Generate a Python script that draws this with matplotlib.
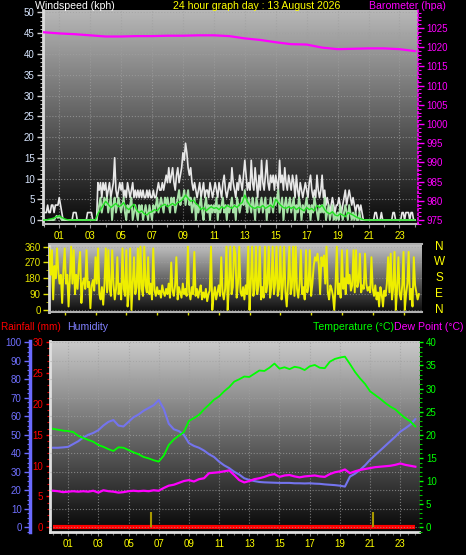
import numpy as np
import matplotlib
matplotlib.use('Agg')
import matplotlib.pyplot as plt
from matplotlib.ticker import MultipleLocator
from matplotlib.colors import LinearSegmentedColormap
import matplotlib.transforms as mtransforms

plt.rcParams['font.family'] = ['Liberation Sans', 'DejaVu Sans']

# ---------------- data ----------------
hour_ticks = [1, 3, 5, 7, 9, 11, 13, 15, 17, 19, 21, 23]
hour_labels = ['01', '03', '05', '07', '09', '11', '13', '15', '17', '19', '21', '23']

# wind gust (kph), 5-minute samples
wind_gust = [
    1.8, 1.8, 1.8, 3.6, 1.8, 1.8, 3.6, 3.6, 1.8, 3.6, 3.6, 3.6,
    5.4, 3.6, 1.8, 0, 0, 0, 0, 0, 0, 0, 0, 1.8,
    1.8, 1.8, 0, 0, 0, 0, 0, 0, 0, 0, 1.8, 1.8,
    1.8, 1.8, 0, 0, 0, 0, 9.0, 7.2, 9.0, 5.4, 9.0, 7.2,
    9.0, 5.4, 7.2, 9.0, 5.4, 7.2, 9.0, 15.0, 7.2, 5.4, 7.2, 9.0,
    7.2, 9.0, 5.4, 7.2, 5.4, 9.0, 7.2, 5.4, 7.2, 9.0, 5.4, 7.2,
    5.4, 7.2, 5.4, 7.2, 5.4, 7.2, 5.4, 5.4, 7.2, 5.4, 7.2, 5.4,
    5.4, 7.2, 5.4, 5.4, 7.2, 9.0, 7.2, 7.2, 9.0, 7.2, 9.0, 10.8,
    9.0, 12.6, 9.0, 10.8, 12.6, 9.0, 7.2, 10.8, 12.6, 9.0, 10.8, 12.6,
    16.2, 14.4, 18.5, 16.2, 12.6, 10.8, 12.6, 9.0, 7.2, 9.0, 7.2, 5.4,
    7.2, 9.0, 5.4, 7.2, 9.0, 5.4, 7.2, 7.2, 5.4, 9.0, 7.2, 5.4,
    7.2, 9.0, 7.2, 5.4, 9.0, 7.2, 5.4, 9.0, 10.8, 7.2, 5.4, 7.2,
    9.0, 7.2, 12.6, 9.0, 7.2, 5.4, 9.0, 7.2, 10.8, 9.0, 7.2, 10.8,
    14.4, 10.8, 7.2, 9.0, 7.2, 14.4, 9.0, 7.2, 12.6, 9.0, 5.4, 10.8,
    7.2, 14.4, 9.0, 7.2, 10.8, 14.4, 9.0, 7.2, 10.8, 9.0, 10.8, 7.2,
    10.8, 9.0, 7.2, 14.4, 9.0, 10.8, 7.2, 12.6, 9.0, 7.2, 10.8, 9.0,
    7.2, 10.8, 9.0, 5.4, 10.8, 7.2, 5.4, 9.0, 7.2, 5.4, 7.2, 9.0,
    7.2, 5.4, 9.0, 10.8, 7.2, 5.4, 7.2, 5.4, 10.8, 7.2, 5.4, 7.2,
    10.8, 5.4, 7.2, 3.6, 5.4, 3.6, 1.8, 3.6, 5.4, 3.6, 1.8, 3.6,
    3.6, 5.4, 3.6, 1.8, 3.6, 5.4, 7.2, 3.6, 5.4, 7.2, 5.4, 3.6,
    5.4, 3.6, 1.8, 3.6, 3.6, 1.8, 3.6, 1.8, 0, 0, 0, 0,
    0, 0, 0, 0, 0, 1.8, 1.8, 0, 0, 0, 1.8, 0,
    0, 0, 0, 0, 0, 0, 0, 1.8, 1.8, 0, 0, 0,
    0, 0, 1.8, 1.8, 0, 1.8, 1.8, 1.8, 0, 1.8, 1.8, 0,
    0]

# wind speed (kph), 5-minute samples
wind_speed = [
    0, 0, 0, 0, 0, 0, 0, 0, 0, 0.5, 1.0, 0.5,
    1.0, 0.5, 0, 0, 0, 0, 0, 0, 0, 0, 0, 0,
    0, 0, 0, 0, 0, 0, 0, 0, 0, 0, 0, 0,
    0, 0, 0, 0, 0, 0, 1.8, 3.6, 5.4, 1.8, 3.6, 5.4,
    3.6, 5.4, 1.8, 3.6, 5.4, 0, 3.6, 5.4, 1.8, 3.6, 5.4, 3.6,
    1.8, 3.6, 5.4, 1.8, 0, 3.6, 1.8, 3.6, 5.4, 0, 1.8, 3.6,
    1.8, 0, 3.6, 1.8, 3.6, 0, 1.8, 3.6, 1.8, 0, 3.6, 1.8,
    0, 3.6, 1.8, 3.6, 5.4, 1.8, 3.6, 5.4, 3.6, 1.8, 5.4, 3.6,
    5.4, 3.6, 1.8, 5.4, 3.6, 5.4, 1.8, 3.6, 5.4, 7.2, 3.6, 5.4,
    5.4, 7.2, 3.6, 5.4, 7.2, 3.6, 5.4, 1.8, 3.6, 5.4, 0, 3.6,
    1.8, 3.6, 5.4, 1.8, 0, 3.6, 5.4, 1.8, 3.6, 0, 3.6, 1.8,
    3.6, 1.8, 5.4, 0, 3.6, 1.8, 3.6, 5.4, 1.8, 3.6, 0, 3.6,
    1.8, 3.6, 5.4, 1.8, 3.6, 0, 5.4, 3.6, 1.8, 3.6, 5.4, 3.6,
    7.2, 3.6, 1.8, 5.4, 3.6, 1.8, 5.4, 3.6, 0, 5.4, 3.6, 1.8,
    3.6, 5.4, 1.8, 3.6, 5.4, 0, 3.6, 1.8, 5.4, 3.6, 1.8, 5.4,
    3.6, 5.4, 7.2, 1.8, 3.6, 5.4, 0, 3.6, 5.4, 1.8, 3.6, 5.4,
    1.8, 3.6, 5.4, 0, 3.6, 1.8, 5.4, 3.6, 0, 3.6, 1.8, 3.6,
    5.4, 1.8, 3.6, 0, 3.6, 1.8, 5.4, 3.6, 1.8, 0, 3.6, 1.8,
    3.6, 1.8, 5.4, 0, 1.8, 3.6, 0, 1.8, 3.6, 0, 1.8, 0,
    1.8, 0, 3.6, 1.8, 0, 1.8, 3.6, 1.8, 0, 3.6, 1.8, 0,
    1.8, 0, 1.8, 0, 0, 1.8, 0, 0, 0, 0, 0, 0,
    0, 0, 0, 0, 0, 0, 0, 0, 0, 0, 0, 0,
    0, 0, 0, 0, 0, 0, 0, 0, 0, 0, 0, 0,
    0, 0, 0, 0, 0, 0, 0, 0, 0, 0, 0, 0,
    0]

# average wind (kph), 10-minute samples
wind_avg = [
    0, 0, 0.2, 0.3, 0.5, 0.8,
    1.0, 0.6, 0.3, 0.1, 0, 0,
    0, 0, 0, 0, 0, 0,
    0, 0, 0, 1.5, 2.5, 3.5,
    4.5, 3.8, 3.0, 3.5, 4.0, 3.2,
    3.5, 4.2, 3.0, 2.5, 3.2, 3.8,
    2.5, 1.8, 2.2, 1.5, 1.2, 1.8,
    2.0, 2.5, 2.2, 3.0, 3.5, 3.8,
    3.2, 3.6, 4.0, 3.5, 4.2, 4.5,
    5.0, 6.0, 5.2, 4.5, 4.8, 4.0,
    3.5, 2.5, 3.0, 2.2, 2.8, 3.2,
    2.8, 3.0, 2.5, 3.2, 2.8, 3.5,
    3.2, 2.8, 3.5, 3.0, 3.8, 4.2,
    6.0, 4.5, 3.5, 3.0, 2.8, 3.2,
    3.0, 3.5, 2.8, 3.2, 3.6, 3.0,
    5.0, 4.2, 3.5, 3.0, 2.8, 3.2,
    2.8, 3.2, 2.5, 3.0, 2.6, 2.2,
    3.0, 2.5, 2.8, 2.2, 3.5, 3.0,
    3.6, 2.5, 1.8, 1.5, 2.0, 1.2,
    1.0, 1.5, 1.2, 0.8, 1.8, 1.5,
    1.2, 0.8, 0.5, 0.3, 0.1, 0,
    0, 0, 0, 0, 0, 0,
    0, 0, 0, 0, 0, 0,
    0, 0, 0, 0, 0, 0,
    0]

# barometer (hPa), hourly
baro = [1023.9, 1023.6, 1023.4, 1023.1, 1022.8, 1022.8, 1022.9, 1022.9,
        1023.0, 1023.0, 1023.1, 1023.1, 1022.9, 1022.3, 1021.9, 1021.3,
        1020.8, 1020.7, 1019.9, 1019.5, 1019.6, 1019.7, 1019.7, 1019.5,
        1019.0]

# wind direction (degrees), 5-minute samples
wind_dir = [
    350, 200, 340, 60, 250, 180, 350, 220, 150, 200, 40, 230,
    350, 150, 200, 20, 180, 360, 150, 340, 90, 200, 120, 250,
    330, 40, 150, 180, 120, 340, 130, 160, 10, 140, 170, 110,
    300, 150, 350, 90, 60, 130, 30, 150, 350, 100, 340, 120,
    80, 340, 150, 60, 120, 300, 90, 150, 60, 350, 120, 80,
    340, 20, 100, 350, 0, 150, 300, 90, 130, 350, 60, 360,
    120, 80, 360, 140, 100, 300, 90, 150, 60, 350, 110, 80,
    130, 90, 110, 70, 140, 100, 80, 120, 90, 150, 70, 270,
    110, 80, 140, 300, 60, 130, 100, 70, 150, 90, 120, 80,
    360, 100, 60, 130, 90, 330, 80, 120, 70, 110, 140, 60,
    100, 70, 120, 50, 90, 110, 360, 0, 80, 130, 60, 100,
    140, 80, 300, 100, 60, 120, 360, 0, 150, 360, 90, 130,
    360, 320, 70, 150, 360, 100, 80, 130, 60, 140, 90, 360,
    0, 150, 360, 80, 120, 360, 90, 140, 360, 60, 130, 70,
    360, 100, 150, 360, 70, 130, 360, 90, 150, 360, 80, 120,
    360, 60, 140, 360, 100, 20, 150, 360, 90, 130, 360, 80,
    360, 120, 70, 150, 340, 90, 130, 60, 340, 100, 140, 340,
    80, 150, 250, 300, 280, 320, 260, 90, 300, 250, 310, 150,
    360, 100, 60, 140, 120, 80, 0, 130, 360, 90, 150, 70,
    340, 120, 180, 90, 340, 150, 200, 110, 140, 340, 100, 340,
    130, 160, 320, 100, 140, 120, 320, 150, 110, 130, 100, 300,
    120, 80, 140, 60, 100, 20, 130, 90, 20, 110, 80, 150,
    300, 100, 320, 60, 130, 330, 0, 120, 300, 90, 60, 140,
    330, 0, 90, 150, 330, 60, 120, 20, 300, 140, 100, 60,
    90]

# temperature (C), 20-minute samples
temperature = [
    21.3, 21.1, 20.9, 20.8, 20.6, 19.8, 19.3, 18.9, 18.5, 17.8, 17.4, 16.9,
    16.5, 17.3, 17.2, 16.7, 16.2, 15.8, 15.2, 14.9, 14.5, 14.2, 15.5, 17.8,
    19.0, 19.8, 20.6, 23.0, 23.6, 24.3, 25.5, 26.5, 27.6, 28.3, 29.4, 30.3,
    31.5, 32.0, 32.6, 32.5, 33.2, 33.9, 33.8, 34.5, 35.4, 34.3, 34.6, 34.2,
    34.7, 34.5, 34.0, 34.8, 35.1, 34.5, 34.4, 35.8, 36.4, 36.7, 36.9, 35.3,
    33.6, 32.2, 31.0, 29.4, 28.6, 27.8, 26.9, 26.1, 25.5, 24.5, 23.6, 22.9,
    21.8]

# humidity (%), 20-minute samples
humidity = [
    43.0, 43.0, 43.2, 43.5, 45.0, 46.5, 48.5, 50.0, 51.0, 52.5, 55.0, 57.0,
    58.0, 55.0, 54.5, 57.0, 59.5, 61.0, 63.0, 64.5, 66.0, 68.8, 64.0, 56.0,
    53.0, 52.0, 50.0, 45.5, 44.0, 43.0, 41.5, 39.5, 38.0, 35.5, 33.5, 32.0,
    30.0, 28.5, 26.5, 25.6, 25.0, 24.5, 24.3, 24.2, 24.1, 24.0, 24.0, 24.0,
    23.8, 23.8, 23.7, 23.8, 23.6, 23.5, 23.2, 23.0, 22.8, 22.5, 22.0, 27.4,
    29.0, 31.0, 33.5, 36.5, 39.0, 41.5, 44.0, 46.5, 49.0, 51.7, 53.5, 55.5,
    58.5]

# dew point (C), 20-minute samples
dew_point = [
    7.9, 7.8, 7.6, 7.7, 7.8, 7.7, 7.8, 7.7, 7.9, 7.5, 8.0, 7.8,
    7.7, 7.5, 7.6, 7.8, 7.9, 7.8, 7.9, 7.8, 8.0, 7.9, 8.5, 9.0,
    9.2, 9.6, 10.0, 10.2, 9.9, 10.4, 10.6, 11.7, 11.8, 11.9, 12.1, 12.3,
    11.3, 10.2, 9.7, 10.0, 10.4, 10.6, 10.9, 11.3, 11.5, 10.9, 11.2, 11.3,
    11.0, 10.8, 11.0, 11.1, 11.2, 11.0, 10.9, 11.5, 11.9, 12.1, 12.5, 11.7,
    12.1, 12.4, 12.6, 12.8, 13.0, 13.1, 13.2, 13.3, 13.5, 13.8, 13.5, 13.3,
    13.1]

# rainfall (mm), hourly
rainfall = [0.0] * 25

# sunrise / sunset markers (hour of day)
sun_events = [6.47, 21.17]

# ---------------- figure ----------------
W, H = 466, 555
fig = plt.figure(figsize=(W / 100, H / 100), dpi=100, facecolor='black')


def rect(x0, y0, x1, y1):
    return [x0 / W, 1 - y1 / H, (x1 - x0) / W, (y1 - y0) / H]


def gradient(ax, top, bottom):
    g = np.linspace(0, 1, 256).reshape(-1, 1)
    cmap = LinearSegmentedColormap.from_list('g', [top, bottom])
    ax.imshow(g, cmap=cmap, extent=[0, 1, 0, 1], transform=ax.transAxes,
              aspect='auto', zorder=-10, origin='upper', interpolation='bilinear')


t5 = np.arange(len(wind_gust)) / 12.0
t10 = np.arange(len(wind_avg)) / 6.0
t60 = np.arange(len(baro)) * 1.0
t5d = np.arange(len(wind_dir)) / 12.0
t20 = np.arange(len(temperature)) / 3.0
t60r = np.arange(len(rainfall)) * 1.0

FS = 7
YEL = '#ffff00'
PX = 0.72  # points per pixel at 100 dpi

# ---- top panel: wind speed + barometer ----
ax1 = fig.add_axes(rect(43, 10, 418, 224))
gradient(ax1, '#b8b8b8', '#0a0a0a')
ax1.plot(t5, wind_gust, color='#e8e8e8', lw=1.2, zorder=2)
ax1.plot(t5, wind_speed, color='#b0eeb0', lw=1.4, alpha=0.95, zorder=3)
ax1.plot(t10, wind_avg, color='#22e022', lw=1.0, zorder=4)
ax1.set_xlim(-0.05, 24.2)
ax1.set_ylim(-0.96, 50.6)
ax1.yaxis.set_major_locator(MultipleLocator(5))
ax1.yaxis.set_minor_locator(MultipleLocator(1))
ax1.set_xticks(hour_ticks)
ax1.set_xticklabels(hour_labels)
ax1.set_xticks(range(0, 25), minor=True)
ax1.tick_params(axis='y', which='major', color='#d0d0d0', labelcolor='#d8e6ff',
                labelsize=FS, length=4, width=1, pad=2)
ax1.tick_params(axis='y', which='minor', color='#c0c0c0', length=2, width=0.8)
ax1.tick_params(axis='x', which='major', color='#909090', labelcolor=YEL,
                labelsize=FS, length=3, width=0.8, pad=2)
ax1.tick_params(axis='x', which='minor', color='#909090', length=2, width=0.8)
ax1.set_axisbelow(True)
ax1.grid(True, which='major', color='#a0a0a0', ls=':', lw=0.8, alpha=0.7)
for s in ['top', 'right']:
    ax1.spines[s].set_visible(False)
ax1.spines['left'].set_color('#dcdcdc')
ax1.spines['left'].set_linewidth(2)
ax1.spines['bottom'].set_color('#bdbdbd')
ax1.spines['bottom'].set_linewidth(1.5)

ax1b = ax1.twinx()
ax1b.plot(t60, baro, color='#ff00ff', lw=1.6)
ax1b.set_ylim(973.96, 1029.7)
ax1b.yaxis.set_minor_locator(MultipleLocator(1))
ax1b.set_yticks(np.arange(975, 1026, 5))
ax1b.tick_params(axis='y', which='major', color='#ff00ff', labelcolor='#ff00ff',
                 labelsize=FS, length=4, width=1, pad=2)
ax1b.tick_params(axis='y', which='minor', color='#ff00ff', length=2, width=0.8)
for s in ['top', 'left', 'bottom']:
    ax1b.spines[s].set_visible(False)
ax1b.spines['right'].set_color('#ff00ff')
ax1b.spines['right'].set_linestyle(':')
ax1b.spines['right'].set_linewidth(1.2)

# ---- wind direction panel ----
ax2 = fig.add_axes(rect(49, 244, 422, 312))
gradient(ax2, '#c4c4c4', '#0c0c0c')
ax2.plot(t5d, wind_dir, color='#eeee00', lw=1.4, zorder=3)
ax2.set_xlim(-0.02, 24.2)
ax2.set_ylim(-11.4, 375)
ax2.set_yticks([0, 90, 180, 270, 360])
ax2.yaxis.set_minor_locator(MultipleLocator(45))
ax2.set_xticks(hour_ticks)
ax2.set_xticklabels([])
ax2.tick_params(axis='y', which='major', color='#e0e000', labelcolor='#e6e600',
                labelsize=FS, length=4, width=1, pad=2)
ax2.tick_params(axis='y', which='minor', color='#c8c800', length=2)
ax2.tick_params(axis='x', which='major', color='#e0e000', length=2, width=1)
ax2.set_axisbelow(True)
ax2.grid(True, which='major', axis='y', color='#a0a0a0', ls=':', lw=0.8, alpha=0.6)
ax2.spines['right'].set_visible(False)
ax2.spines['left'].set_color('#d8d8d8')
ax2.spines['left'].set_linewidth(2)
for s in ['top', 'bottom']:
    ax2.spines[s].set_color('#b0b0b0')
    ax2.spines[s].set_linewidth(1.5)
trans2 = mtransforms.blended_transform_factory(ax2.transAxes, ax2.transData)
for val, letter in zip([360, 270, 180, 90, 0], ['N', 'W', 'S', 'E', 'N']):
    ax2.text(1.046, val, letter, transform=trans2, color=YEL, fontsize=8.5,
             ha='center', va='center')

# ---- bottom panel: rain / humidity / temperature / dew point ----
ax3 = fig.add_axes(rect(50, 341, 419, 532))
gradient(ax3, '#cacaca', '#060606')
ax3.plot(t60r, rainfall, color='#ff0000', lw=3, zorder=4, solid_capstyle='butt')
ax3.set_xlim(-0.2, 24.24)
ax3.set_ylim(-0.76, 30.2)
ax3.yaxis.set_major_locator(MultipleLocator(5))
ax3.yaxis.set_minor_locator(MultipleLocator(1))
ax3.set_xticks(hour_ticks)
ax3.set_xticklabels(hour_labels)
ax3.set_xticks(np.arange(0, 24.5, 0.5), minor=True)
ax3.tick_params(axis='y', which='major', color='#ff0000', labelcolor='#ff0000',
                labelsize=FS, length=3, width=1, pad=2)
ax3.tick_params(axis='y', which='minor', color='#e00000', length=2, width=0.8)
ax3.tick_params(axis='x', which='major', color='#909090', labelcolor=YEL,
                labelsize=FS, length=3, width=0.8, pad=2)
ax3.tick_params(axis='x', which='minor', color='#707070', length=2, width=0.8)
ax3.set_axisbelow(True)
ax3.grid(True, which='major', axis='x', color='#a0a0a0', ls=':', lw=0.8, alpha=0.7)
for s in ['top', 'right']:
    ax3.spines[s].set_visible(False)
ax3.spines['left'].set_color('#e0e0e0')
ax3.spines['left'].set_linewidth(2)
ax3.spines['bottom'].set_color('#e0e0e0')
ax3.spines['bottom'].set_linewidth(2)

axH = ax3.twinx()
axH.plot(t20, humidity, color='#7474ee', lw=1.5, zorder=3)
axH.set_ylim(-2.54, 100.7)
axH.yaxis.set_ticks_position('left')
axH.yaxis.set_label_position('left')
axH.yaxis.set_minor_locator(MultipleLocator(2.5))
axH.spines['left'].set_position(('outward', 20 * PX))
axH.spines['left'].set_visible(True)
axH.spines['left'].set_color('#6a6aff')
axH.spines['left'].set_linewidth(2.5)
for s in ['top', 'right', 'bottom']:
    axH.spines[s].set_visible(False)
axH.tick_params(axis='y', which='major', color='#6a6aff', labelcolor='#7070ff',
                labelsize=FS, length=4, width=1, pad=2)
axH.tick_params(axis='y', which='minor', color='#6a6aff', length=2.5, width=0.8)
axH.set_yticks(np.arange(0, 101, 10))
axH.yaxis.grid(True, color='#a0a0a0', ls=':', lw=0.8, alpha=0.7)

axT = ax3.twinx()
axT.plot(t20, temperature, color='#00ff00', lw=1.3, zorder=3)
axT.plot(t20, dew_point, color='#ff00ff', lw=1.6, zorder=4)
axT.vlines(sun_events, 0, 3.4, color='#a89800', lw=1.5, zorder=5)
axT.set_ylim(-1.02, 40.28)
axT.yaxis.set_major_locator(MultipleLocator(5))
axT.yaxis.set_minor_locator(MultipleLocator(1))
axT.tick_params(axis='y', which='major', color='#00ff00', labelcolor='#00ff00',
                labelsize=FS, length=3, width=1, pad=2)
axT.tick_params(axis='y', which='minor', color='#00c000', length=2, width=0.8)
for s in ['top', 'right', 'left', 'bottom']:
    axT.spines[s].set_visible(False)

# ---- header / legend texts ----
TFS = 7.6
fig.text(35 / W, 1 - 6 / H, 'Windspeed (kph)', color='white', fontsize=TFS,
         ha='left', va='center')
fig.text(257 / W, 1 - 6 / H, '24 hour graph day : 13 August 2026', color=YEL,
         fontsize=TFS, ha='center', va='center')
fig.text(446 / W, 1 - 6 / H, 'Barometer (hpa)', color='#ff00ff', fontsize=TFS,
         ha='right', va='center')
yl = 1 - 327 / H
fig.text(1 / W, yl, 'Rainfall (mm)', color='#ff0000', fontsize=7.2, ha='left', va='center')
fig.text(67 / W, yl, 'Humidity', color='#8080ff', fontsize=TFS, ha='left', va='center')
fig.text(313 / W, yl, 'Temperature (°C)', color='#00ff00', fontsize=TFS, ha='left', va='center')
fig.text(394 / W, yl, 'Dew Point (°C)', color='#ff00ff', fontsize=TFS, ha='left', va='center')

fig.savefig('out.png', dpi=100, facecolor='black')
